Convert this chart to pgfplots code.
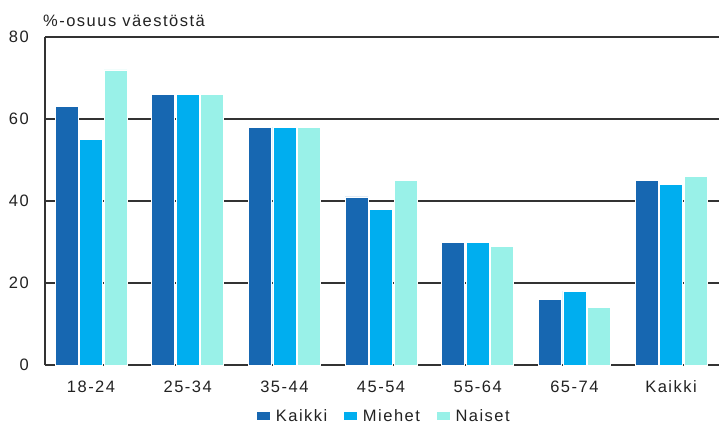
\documentclass[border=0pt]{standalone}
\usepackage{fontspec}
\setmainfont{Liberation Sans}[LetterSpace=9]
\usepackage{pgfplots}
\pgfplotsset{compat=1.18}
\definecolor{kaikki}{HTML}{1767B1}
\definecolor{miehet}{HTML}{00AEEF}
\definecolor{naiset}{HTML}{99F1E8}
\definecolor{txt}{HTML}{222222}
\definecolor{gridc}{HTML}{333333}
\begin{document}
\begin{tikzpicture}[x=1bp,y=1bp,font=\fontsize{16.5bp}{19bp}\selectfont]
\path[use as bounding box] (0,0) rectangle (719,428);
\begin{axis}[
  at={(45bp,63bp)}, anchor=south west,
  scale only axis, width=674bp, height=328bp,
  xmin=-0.476, xmax=6.496, ymin=0, ymax=80,
  ytick={0,20,40,60,80},
  xtick={0,1,2,3,4,5,6},
  xticklabels={18-24,25-34,35-44,45-54,55-64,65-74,Kaikki},
  ymajorgrids,
  grid style={line width=1.6bp, color=gridc},
  axis x line*=bottom, axis y line*=left,
  axis line style={line width=1.6bp, color=gridc},
  major tick length=0pt,
  /pgf/number format/assume math mode=true,
  ticklabel style={font=\fontsize{16.5bp}{19bp}\selectfont, text=txt, inner sep=0pt},
  yticklabel style={anchor=east, xshift=-16bp},
  xticklabel style={anchor=center, yshift=-21.5bp},
  ybar=1.5bp, bar width=23bp,
  every axis plot/.append style={draw=white, line width=0.6bp},
  legend columns=3,
  legend style={draw=none, at={(0.5015,-0.1555)}, anchor=center,
    font=\fontsize{16.5bp}{19bp}\selectfont, text=txt, inner sep=0pt,
    nodes={inner sep=0pt},
    /tikz/every odd column/.append style={column sep=5bp},
    /tikz/every even column/.append style={column sep=16bp}},
  legend image code/.code={\fill[#1] (0bp,-4.5bp) rectangle (14bp,4.5bp);},
]
\addplot[fill=kaikki] coordinates {(0,63) (1,66) (2,58) (3,41) (4,30) (5,16) (6,45)};
\addplot[fill=miehet] coordinates {(0,55) (1,66) (2,58) (3,38) (4,30) (5,18) (6,44)};
\addplot[fill=naiset] coordinates {(0,72) (1,66) (2,58) (3,45) (4,29) (5,14) (6,46)};
\legend{Kaikki,Miehet,Naiset}
\end{axis}
\node[anchor=base west, inner sep=0pt, text=txt] at (43,401) {\%-osuus väestöstä};
\end{tikzpicture}
\end{document}
